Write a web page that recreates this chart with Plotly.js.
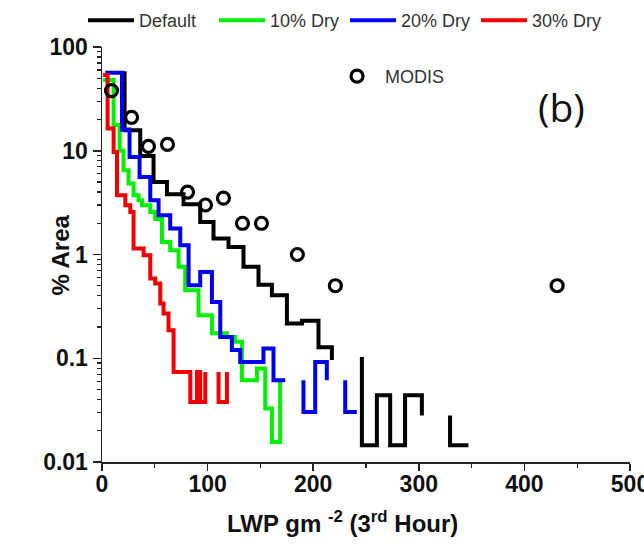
<!DOCTYPE html>
<html><head><meta charset="utf-8">
<script src="https://cdn.plot.ly/plotly-3.0.1.min.js"></script>
<style>html,body{margin:0;padding:0;background:#fff}#chart{width:644px;height:548px}</style>
</head><body><div id="chart"></div>
<script>
const seriesNames = ['Default', '10% Dry', '20% Dry', '30% Dry'];
const seriesColors = ['#000000', '#00f000', '#0000f0', '#f00000'];

// Step histograms: bin left edges and values (null = break in line)
const defaultX = [18.5, 21.4, 36.2, 48.8, 61.5, 77.2, 93.0, 105.6, 119.8, 134.0, 148.2, 160.9, 175.1, 189.3, 205.0, 217.7, null, 246.1, 246.1, 260.3, 272.9, 287.0, 302.9, null, 329.6, 329.6, 347.0];
const defaultY = [56, 15.8, 8.9, 5.0, 3.8, 3.05, 2.06, 1.43, 1.18, 0.76, 0.51, 0.405, 0.216, 0.23, 0.128, 0.096, null, 0.103, 0.0145, 0.044, 0.0145, 0.044, 0.028, null, 0.028, 0.0145, 0.0145];

const dry10X = [1.0, 11.0, 16.7, 20.4, 25.2, 29.9, 34.6, 37.9, 45.7, 50.4, 56.8, 64.6, 72.5, 78.8, 91.4, 104.1, 118.3, 126.2, 132.5, 146.7, 154.6, 160.9, 168.7];
const dry10Y = [48, 17.7, 10.0, 6.5, 4.84, 3.73, 3.34, 2.99, 2.57, 2.2, 1.32, 1.10, 0.76, 0.453, 0.26, 0.174, 0.16, 0.144, 0.0614, 0.0796, 0.0327, 0.0156, 0.059];

const dry20X = [3.1, 18.9, 26.1, 35.6, 45.7, 53.6, 64.6, 74.1, 82.0, 93.0, 104.1, 112.0, 123.0, 130.9, 152.9, 162.4, 173.5, null, 190.8, 190.8, 201.9, 212.9, null, 230.3, 230.3, 241.3];
const dry20Y = [56.4, 16, 8.7, 5.6, 3.34, 2.39, 1.78, 1.23, 0.506, 0.68, 0.349, 0.16, 0.12, 0.092, 0.124, 0.0614, 0.0614, null, 0.0614, 0.0303, 0.092, 0.0614, null, 0.0614, 0.0303, 0.0303];

const dry30X = [1.0, 5.3, 11.0, 14.2, 22.1, 26.8, 29.9, 39.4, 45.7, 50.4, 55.2, 58.3, 63.0, 67.8, 83.6, 89.9, 93.0, 97.8, null, 110.4, 110.4, 118.3];
const dry30Y = [53.6, 16.4, 9.75, 3.73, 2.99, 2.57, 1.14, 0.985, 0.587, 0.526, 0.337, 0.27, 0.186, 0.0738, 0.0379, 0.0738, 0.0379, 0.0738, null, 0.0738, 0.0379, 0.0738];

const modisX = [9, 28, 44, 62, 81, 98, 115, 133, 151, 185, 221, 431];
const modisY = [38, 21, 11, 11.5, 4, 3, 3.5, 2, 2, 1, 0.5, 0.5];

const xTickVals = [0, 100, 200, 300, 400, 500];
const yTickVals = [0.01, 0.1, 1, 10, 100];
const yTickText = ['0.01', '0.1', '1', '10', '100'];

const seriesX = [defaultX, dry10X, dry20X, dry30X];
const seriesY = [defaultY, dry10Y, dry20Y, dry30Y];
const drawOrder = [0, 1, 2, 3];

const traces = drawOrder.map(i => ({
  type: 'scatter', mode: 'lines', name: seriesNames[i],
  x: seriesX[i], y: seriesY[i],
  line: {shape: 'hv', color: seriesColors[i], width: 4},
  connectgaps: false, legendrank: i + 1, legend: 'legend'
}));
traces.push({
  type: 'scatter', mode: 'markers', name: 'MODIS',
  x: modisX, y: modisY, legend: 'legend2',
  marker: {symbol: 'circle-open', size: 12, color: '#000', line: {width: 3.2, color: '#000'}}
});

const FAM = 'Liberation Sans, Arial, sans-serif';
const tickFont = {family: FAM, size: 23, color: '#111', weight: 'bold'};
const layout = {
  width: 644, height: 548,
  margin: {l: 102, r: 14, t: 47, b: 86, autoexpand: false},
  paper_bgcolor: '#fff', plot_bgcolor: '#fff',
  showlegend: true,
  xaxis: {
    type: 'linear', range: [0, 500], tickvals: xTickVals,
    ticks: 'outside', ticklen: 7, tickwidth: 1.5, tickcolor: '#222',
    showline: true, linecolor: '#222', linewidth: 1.5, showgrid: false, zeroline: false,
    tickfont: tickFont, ticklabeloverflow: 'allow', ticklabelstandoff: -6,
    minor: {dtick: 50, ticks: 'outside', ticklen: 4, tickwidth: 1.2, tickcolor: '#222', showgrid: false}
  },
  xaxis2: {
    overlaying: 'x', side: 'top', type: 'linear', range: [0, 500], tickvals: xTickVals,
    ticks: 'inside', ticklen: 6, tickwidth: 1.5, tickcolor: '#222', showticklabels: false,
    showline: true, linecolor: '#222', linewidth: 1.5, showgrid: false, zeroline: false,
    minor: {dtick: 50, ticks: 'inside', ticklen: 4, tickwidth: 1.2, tickcolor: '#222', showgrid: false}
  },
  yaxis: {
    type: 'log', range: [-2, 2], tickvals: yTickVals, ticktext: yTickText,
    ticks: 'outside', ticklen: 8, tickwidth: 1.5, tickcolor: '#222',
    showline: true, linecolor: '#222', linewidth: 1.5, showgrid: false, zeroline: false,
    tickfont: tickFont,
    minor: {dtick: 'D1', ticks: 'outside', ticklen: 4, tickwidth: 1.2, tickcolor: '#222', showgrid: false}
  },
  yaxis2: {
    overlaying: 'y', side: 'right', type: 'log', range: [-2, 2], tickvals: yTickVals,
    ticks: 'inside', ticklen: 7, tickwidth: 1.5, tickcolor: '#222', showticklabels: false,
    showline: true, linecolor: '#222', linewidth: 1.5, showgrid: false, zeroline: false,
    minor: {dtick: 'D1', ticks: 'inside', ticklen: 4, tickwidth: 1.2, tickcolor: '#222', showgrid: false}
  },
  legend: {
    orientation: 'h', x: -0.036, y: 1.1085, xanchor: 'left', yanchor: 'top',
    itemwidth: 46, entrywidth: 70, entrywidthmode: 'pixels', traceorder: 'normal',
    font: {family: FAM, size: 18, color: '#333'},
    bgcolor: 'rgba(0,0,0,0)', borderwidth: 0
  },
  legend2: {
    x: 0.43, y: 0.9735, xanchor: 'left', yanchor: 'top', itemwidth: 46,
    font: {family: FAM, size: 18, color: '#333'},
    bgcolor: 'rgba(0,0,0,0)', borderwidth: 0
  },
  annotations: [{
    xref: 'paper', yref: 'paper', x: 0.8695, y: 0.8555, xanchor: 'center', yanchor: 'middle',
    text: '(b)', showarrow: false, font: {family: 'Open Sans, sans-serif', size: 39, color: '#111'}
  }, {
    xref: 'paper', yref: 'paper', x: -0.079, y: 0.498, xanchor: 'center', yanchor: 'middle',
    text: '% Area', textangle: -90, showarrow: false, font: {family: FAM, size: 24, color: '#111', weight: 'bold'}
  }, {
    xref: 'paper', yref: 'paper', x: 0.455, y: -0.145, xanchor: 'center', yanchor: 'middle',
    text: 'LWP gm <sup>-2</sup> (3<sup>rd</sup> Hour)', showarrow: false, font: {family: FAM, size: 24, color: '#111', weight: 'bold'}
  }]
};
Plotly.newPlot('chart', traces, layout, {displayModeBar: false, staticPlot: true});
</script></body></html>
